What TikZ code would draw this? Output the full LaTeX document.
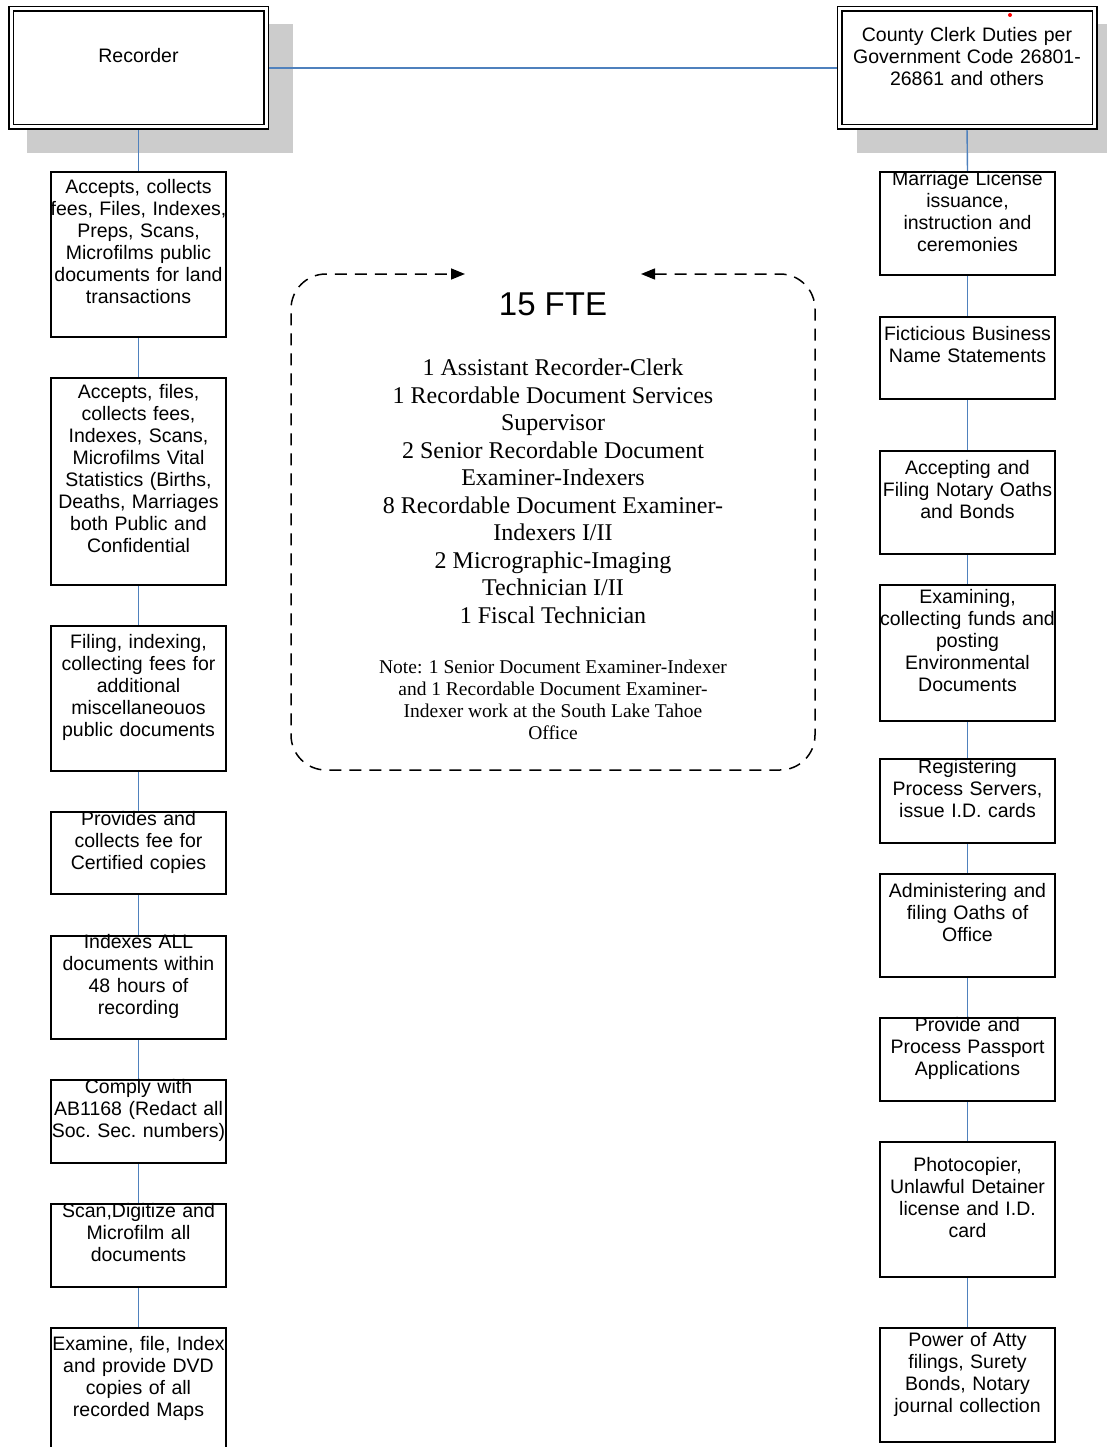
\documentclass[tikz,border=0pt]{standalone}
\usepackage{fontspec}
\setmainfont{Liberation Serif}
\newfontfamily\arialfont{Liberation Sans}
\usetikzlibrary{arrows.meta,backgrounds}

\definecolor{linkblue}{HTML}{4F81BD}
\definecolor{shadegray}{HTML}{CCCCCC}

\tikzset{
  duty/.style={draw, fill=white, line width=1.6pt, text width=185pt, inner xsep=-5pt,
    inner ysep=0pt, align=center, anchor=north,
    font=\arialfont\fontsize{19.5}{22}\selectfont\frenchspacing},
  head/.style={draw, fill=white, double, double distance=3pt, line width=1.5pt,
    text width=255pt, inner sep=0pt, align=center,
    font=\arialfont\fontsize{19.5}{22}\selectfont},
  link/.style={linkblue, line width=1.4pt},
  frame/.style={line width=1.5pt, dash pattern=on 12pt off 8pt, rounded corners=35pt,
    >={Triangle[length=14pt, width=11pt]}},
}

\begin{document}
\begin{tikzpicture}[x=1pt, y=-1pt, line cap=butt]

\useasboundingbox (0,0) rectangle (1107,1447);

% --- Heads ---
\node[head, text height=54pt, text depth=64pt] (rec) at (138.5,68) {Recorder};
\node[head, text height=33pt, text depth=85pt] (clerk) at (967,68)
  {County Clerk Duties per\\Government Code 26801-\\26861 and others};
\fill[red] (1010,15) circle (2pt);

% --- Recorder duties ---
\node[duty, text height=22pt, text depth=143pt] (L1) at (138.5,171)
  {Accepts, collects\\fees, Files, Indexes,\\Preps, Scans,\\Microfilms public\\documents for land\\transactions};
\node[duty, text height=21pt, text depth=186pt] (L2) at (138.5,377)
  {Accepts, files,\\collects fees,\\Indexes, Scans,\\Microfilms Vital\\Statistics (Births,\\Deaths, Marriages\\both Public and\\Confidential};
\node[duty, text height=23pt, text depth=122pt] (L3) at (138.5,625)
  {Filing, indexing,\\collecting fees for\\additional\\miscellaneouos\\public documents};
\node[duty, text height=14pt, text depth=68pt] (L4) at (138.5,811)
  {Provides and\\collects fee for\\Certified copies};
\node[duty, text height=13pt, text depth=90pt] (L5) at (138.5,935)
  {Indexes ALL\\documents within\\48 hours of\\recording};
\node[duty, text height=14pt, text depth=69pt] (L6) at (138.5,1079)
  {Comply with\\AB1168 (Redact all\\Soc. Sec. numbers)};
\node[duty, text height=14pt, text depth=69pt] (L7) at (138.5,1203)
  {Scan,Digitize and\\Microfilm all\\documents};
\node[duty, text height=23pt, text depth=110pt] (L8) at (138.5,1327)
  {Examine, file, Index\\and provide DVD\\copies of all\\recorded Maps};

% --- County Clerk duties ---
\node[duty, text height=14pt, text depth=89pt] (R1) at (967.5,171)
  {Marriage License\\issuance,\\instruction and\\ceremonies};
\node[duty, text height=24pt, text depth=58pt] (R2) at (967.5,316)
  {Ficticious Business\\Name Statements};
\node[duty, text height=24pt, text depth=79pt] (R3) at (967.5,450)
  {Accepting and\\Filing Notary Oaths\\and Bonds};
\node[duty, text height=19pt, text depth=117pt] (R4) at (967.5,584)
  {Examining,\\collecting funds and\\posting\\Environmental\\Documents};
\node[duty, text height=15pt, text depth=69pt] (R5) at (967.5,758)
  {Registering\\Process Servers,\\issue I.D. cards};
\node[duty, text height=24pt, text depth=79pt] (R6) at (967.5,873)
  {Administering and\\filing Oaths of\\Office};
\node[duty, text height=14pt, text depth=69pt] (R7) at (967.5,1017)
  {Provide and\\Process Passport\\Applications};
\node[duty, text height=30pt, text depth=105pt] (R8) at (967.5,1141)
  {Photocopier,\\Unlawful Detainer\\license and I.D.\\card};
\node[duty, text height=19pt, text depth=95pt] (R9) at (967.5,1327)
  {Power of Atty\\filings, Surety\\Bonds, Notary\\journal collection};

% --- Staffing ---
\node[font=\arialfont\fontsize{33}{38}\selectfont] (fte) at (553,304) {15 FTE};
\node[anchor=base, align=center, font=\fontsize{24}{27.5}\selectfont] (staff) at (553,623)
  {1 Assistant Recorder-Clerk\\1 Recordable Document Services\\Supervisor\\2 Senior Recordable Document\\Examiner-Indexers\\8 Recordable Document Examiner-\\Indexers I/II\\2 Micrographic-Imaging\\Technician I/II\\1 Fiscal Technician};
\node[anchor=base, align=center, font=\fontsize{19.5}{22}\selectfont] (note) at (553,739.5)
  {Note: 1 Senior Document Examiner-Indexer\\and 1 Recordable Document Examiner-\\Indexer work at the South Lake Tahoe\\Office};

\draw[frame, <->] (641,274) -- (815,274) -- (815,770) -- (291,770) -- (291,274) -- (465,274);

% shadows and links behind the boxes
\begin{scope}[on background layer]
  \fill[shadegray] ([shift={(17,25)}]rec.south west) rectangle ([shift={(26,16)}]rec.north east);
  \fill[shadegray] ([shift={(18,25)}]clerk.south west) rectangle ([shift={(26,16)}]clerk.north east);
  \draw[link] (rec.east) -- (clerk.west);
  \draw[link] (rec.south) -- (L1.north);
  \draw[link] (clerk.south) -- (R1.north);
  \foreach \i/\j in {1/2,2/3,3/4,4/5,5/6,6/7,7/8}
    \draw[link] (L\i.south) -- (L\j.north);
  \foreach \i/\j in {1/2,2/3,3/4,4/5,5/6,6/7,7/8,8/9}
    \draw[link] (R\i.south) -- (R\j.north);
\end{scope}

\end{tikzpicture}
\end{document}
